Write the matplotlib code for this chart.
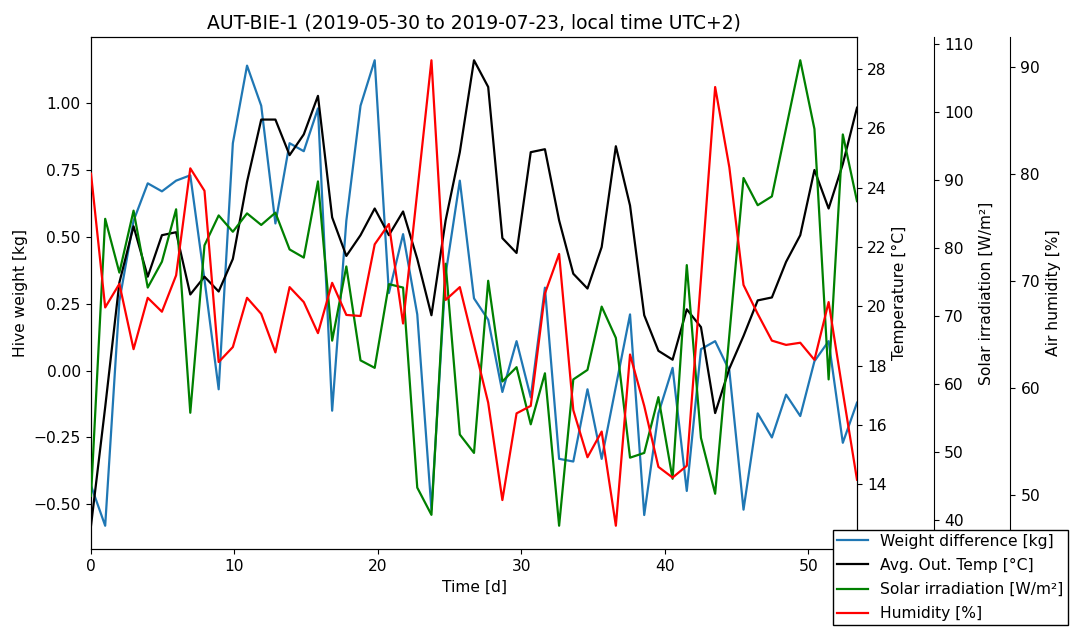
import numpy as np
import matplotlib
matplotlib.use("Agg")
import matplotlib.pyplot as plt

# ==========================================
# 1. DATA
# ==========================================
TITLE = "AUT-BIE-1 (2019-05-30 to 2019-07-23, local time UTC+2)"

# 55 daily samples, time axis runs 0 .. 53.4 d
days = np.linspace(0, 53.4, 55)

weight_diff = [
    -0.43, -0.58, 0.26, 0.56, 0.70, 0.67, 0.71, 0.73, 0.34, -0.07,
    0.85, 1.14, 0.99, 0.55, 0.85, 0.82, 0.98, -0.15, 0.56, 0.99,
    1.16, 0.29, 0.51, 0.21, -0.52, 0.36, 0.71, 0.27, 0.19, -0.08,
    0.11, -0.10, 0.31, -0.33, -0.34, -0.07, -0.33, -0.06, 0.21, -0.54,
    -0.16, 0.01, -0.45, 0.08, 0.11, 0.00, -0.52, -0.16, -0.25, -0.09,
    -0.17, 0.035, 0.11, -0.27, -0.12,
]

avg_temp = [
    12.6, 16.6, 20.8, 22.7, 21.0, 22.4, 22.5, 20.4, 21.0, 20.5,
    21.6, 24.2, 26.3, 26.3, 25.1, 25.8, 27.1, 23.0, 21.7, 22.4,
    23.3, 22.4, 23.2, 21.6, 19.7, 22.9, 25.2, 28.3, 27.4, 22.3,
    21.8, 25.2, 25.3, 22.9, 21.1, 20.6, 22.0, 25.4, 23.4, 19.7,
    18.5, 18.2, 19.9, 19.3, 16.4, 17.9, 19.0, 20.2, 20.3, 21.5,
    22.4, 24.6, 23.3, 24.8, 26.7,
]

solar_irr = [
    43.6, 84.3, 76.4, 85.5, 74.2, 78.0, 85.7, 55.8, 80.4, 84.8,
    82.4, 85.1, 83.4, 85.2, 79.8, 78.6, 89.8, 66.4, 77.3, 63.5,
    62.4, 74.7, 74.2, 44.8, 40.8, 77.7, 52.6, 49.9, 75.2, 60.4,
    62.5, 54.1, 61.6, 39.2, 60.7, 62.1, 71.4, 66.8, 49.2, 49.9,
    58.1, 46.1, 77.5, 52.1, 43.9, 67.2, 90.3, 86.3, 87.6, 97.6,
    107.6, 97.5, 60.7, 96.7, 86.9,
]

humidity = [
    80.0, 67.5, 69.7, 63.6, 68.4, 67.1, 70.5, 80.5, 78.4, 62.4,
    63.8, 68.4, 66.9, 63.3, 69.4, 68.0, 65.1, 69.8, 66.8, 66.7,
    73.4, 75.3, 66.0, 78.3, 90.6, 68.2, 69.4, 64.0, 58.6, 49.5,
    57.6, 58.3, 68.8, 72.5, 57.9, 53.5, 55.9, 47.1, 63.1, 58.3,
    52.6, 51.6, 52.7, 70.2, 88.1, 80.6, 69.6, 66.9, 64.4, 64.0,
    64.2, 62.6, 68.0, 59.6, 51.4,
]

plt.rcParams.update({
    "font.family": "DejaVu Sans",
    "font.size": 11.2,
    "lines.linewidth": 1.6,
    "xtick.major.size": 3.9,
    "ytick.major.size": 3.9,
})

# ==========================================
# 2. FIGURE
# ==========================================
fig = plt.figure(figsize=(10.73, 6.27), dpi=100)
ax = fig.add_axes([91 / 1073, 1 - 549 / 627, 766 / 1073, 512 / 627])

l1, = ax.plot(days, weight_diff, color="#1f77b4", label="Weight difference [kg]")
ax.set_xlabel("Time [d]")
ax.set_ylabel("Hive weight [kg]")
ax.set_xlim(days[0], days[-1])
ax.set_title(TITLE, fontsize=13.5)

ax_t = ax.twinx()
l2, = ax_t.plot(days, avg_temp, color="black", label="Avg. Out. Temp [°C]")
ax_t.set_ylabel("Temperature [°C]")

ax_s = ax.twinx()
ax_s.spines["right"].set_position(("axes", 1.1))
l3, = ax_s.plot(days, solar_irr, color="green", label="Solar irradiation [W/m²]")
ax_s.set_ylabel("Solar irradiation [W/m²]")

ax_h = ax.twinx()
ax_h.spines["right"].set_position(("axes", 1.2))
l4, = ax_h.plot(days, humidity, color="red", label="Humidity [%]")
ax_h.set_ylabel("Air humidity [%]")

for a in (ax_s, ax_h):
    a.spines["top"].set_visible(False)
    a.spines["bottom"].set_visible(False)
    a.spines["left"].set_visible(False)

lines = [l1, l2, l3, l4]
leg = fig.legend(
    lines,
    [l.get_label() for l in lines],
    loc="upper left",
    bbox_to_anchor=(833 / 1073, 1 - 530 / 627),
    fancybox=False,
    edgecolor="black",
    framealpha=1,
    borderaxespad=0,
    borderpad=0.25,
    labelspacing=0.58,
)
leg.get_frame().set_linewidth(1.0)

fig.savefig("out.png", dpi=100)
